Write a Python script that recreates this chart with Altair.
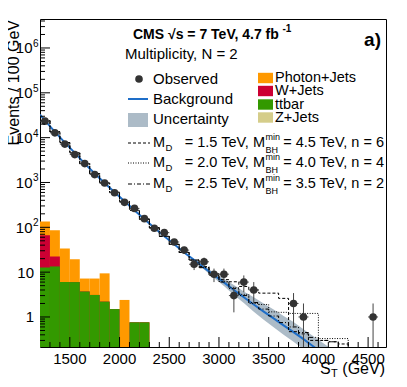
import altair as alt
import numpy as np
import pandas as pd

FONT = "Liberation Sans"

# ---------------- data ----------------
obs_st = [1250, 1350, 1450, 1550, 1650, 1750, 1850, 1950, 2050, 2150, 2250,
          2350, 2450, 2550, 2650, 2750, 2850, 2950, 3050, 3150, 3250, 3350,
          3750, 3850, 4550]
obs_n = [23300, 12800, 7170, 4190, 2640, 1500, 975, 590, 360, 264, 156,
         95, 76, 47, 31, 15, 17, 9, 9, 3, 6, 4, 2, 1, 1]

bkg_st = [1200, 1250, 1350, 1450, 1550, 1650, 1750, 1850, 1950, 2050, 2150,
          2250, 2350, 2450, 2550, 2650, 2750, 2850, 2950, 3050, 3150, 3250,
          3350, 3450, 3550, 3650, 3750, 3850, 3950, 4050, 4150, 4250, 4350]
bkg_val = [32400, 24000, 13500, 7760, 4570, 2630, 1585, 977, 603, 380, 240,
           151, 98, 63, 41.7, 27.5, 18.6, 12.6, 8.5, 5.9, 4.0, 2.75,
           1.9, 1.32, 0.93, 0.65, 0.46, 0.32, 0.22, 0.15, 0.105, 0.072, 0.05]
unc_lo = [31700, 23500, 13200, 7590, 4470, 2570, 1550, 955, 589, 371, 234,
          147, 95.5, 61.4, 40.5, 26.5, 17.4, 11.5, 7.4, 4.9, 3.1, 2.04,
          1.31, 0.87, 0.59, 0.40, 0.28, 0.19, 0.13, 0.086, 0.06, 0.042, 0.029]
unc_hi = [33100, 24500, 13800, 7940, 4670, 2690, 1620, 1000, 617, 389, 246,
          155, 100.5, 64.6, 42.9, 28.5, 19.9, 13.8, 9.8, 7.1, 5.2, 3.7,
          2.75, 2.0, 1.47, 1.05, 0.77, 0.53, 0.37, 0.26, 0.18, 0.124, 0.086]

# stacked minor backgrounds (100 GeV bins, lower edges)
stack_lo = [1200, 1300, 1400, 1500, 1600, 1700, 1800, 1900, 2000, 2100, 2200]
ttbar = [12.7, 13.4, 6.0, 6.0, 3.7, 3.1, 2.2, 1.5, 0, 0.76, 0.76]
wjets = [53.7, 8.9, 0, 0, 0, 0, 0, 0, 0, 0, 0]
photon = [67.6, 63.5, 27.6, 13.4, 3.5, 4.1, 7.2, 0, 2.4, 0, 0]

# background + signal, bins from 2800 GeV (below: background only)
sig_from = 2800
sig_a = [13.3, 9.2, 6.8, 6.1, 4.8, 4.0, 3.4, 3.4, 2.6, 0.47, 0.42, 0.3, 0.3, 0.28, 0.25, 0.05]
sig_b = [12.6, 8.5, 6.2, 4.5, 3.2, 2.0, 1.9, 1.3, 1.27, 1.2, 1.2, 1.2, 0.33, 0.33, 0.33, 0.05]
sig_c = [12.6, 8.5, 6.0, 4.3, 3.0, 2.1, 1.5, 1.05, 0.75, 0.6, 0.45, 0.35, 0.3, 0.28, 0.05, 0.05]

x_labels = [1500, 2000, 2500, 3000, 3500, 4000, 4500]

# ---------------- styling ----------------
W, H = 346, 328
xs = alt.Scale(domain=[1200, 4680], nice=False, zero=False)
ys = alt.Scale(type="log", domain=[0.214, 4.43e6], nice=False)
C_ORANGE, C_RED, C_GREEN, C_TAN = "#ff9900", "#cc0033", "#339900", "#d5cd8a"
C_BAND, C_BLUE = "#acbbc7", "#1e6ec8"

one = pd.DataFrame({"a": [0]})


def X(f):
    return alt.X(f, type="quantitative", scale=xs, axis=None)


def Y(f):
    return alt.Y(f, type="quantitative", scale=ys, axis=None)


def txt(s, x, y, size=15, bold=False, align="left", baseline="alphabetic", angle=0):
    return alt.Chart(one).mark_text(
        text=s, font=FONT, fontSize=size, fontWeight="bold" if bold else "normal",
        align=align, baseline=baseline, angle=angle, color="black"
    ).encode(x=alt.value(x), y=alt.value(y))


layers = []

# stacked bars
sdf = pd.DataFrame({"lo": stack_lo, "t": ttbar, "w": wjets, "p": photon})
sdf["hi"] = sdf["lo"] + 100
sdf["g_top"] = sdf["t"]
sdf["r_top"] = sdf["t"] + sdf["w"]
sdf["o_top"] = sdf["t"] + sdf["w"] + sdf["p"]
for col, colr in [("o_top", C_ORANGE), ("r_top", C_RED), ("g_top", C_GREEN)]:
    d = sdf[sdf[col] > 0][["lo", "hi", col]].rename(columns={col: "top"})
    layers.append(alt.Chart(d).mark_rect(color=colr, clip=True).encode(
        x=X("lo"), x2="hi", y=Y("top"), y2=alt.value(H)))

# uncertainty band and background line
bdf = pd.DataFrame({"st": bkg_st, "v": bkg_val, "lo": unc_lo, "hi": unc_hi})
layers.append(alt.Chart(bdf).mark_area(color=C_BAND, clip=True).encode(
    x=X("st"), y=Y("lo"), y2="hi"))
layers.append(alt.Chart(bdf).mark_line(color=C_BLUE, strokeWidth=2, clip=True).encode(
    x=X("st"), y=Y("v")))

# signal step histograms
hist_lo = list(range(1200, 4400, 100))
bkg_hist = bkg_val[1:]
n_bkg_only = (sig_from - 1200) // 100
for vals, dash in [(sig_a, [3, 2]), (sig_b, [1, 1.5]), (sig_c, [4, 2, 1, 2])]:
    yv = bkg_hist[:n_bkg_only] + vals
    d = pd.DataFrame({"x": hist_lo + [4400], "y": yv + [yv[-1]]})
    layers.append(alt.Chart(d).mark_line(
        color="black", strokeWidth=1, strokeDash=dash, interpolate="step-after", clip=True
    ).encode(x=X("x"), y=Y("y")))

# observed data
odf = pd.DataFrame({"st": obs_st, "n": obs_n})
odf["lo"] = np.maximum(odf["n"] - np.sqrt(odf["n"]), 0.1)
odf["hi"] = odf["n"] + np.sqrt(odf["n"])
odf["xl"] = odf["st"] - 50
odf["xh"] = odf["st"] + 50
layers.append(alt.Chart(odf).mark_rule(color="#444", strokeWidth=1, clip=True).encode(
    x=X("st"), y=Y("lo"), y2="hi"))
layers.append(alt.Chart(odf).mark_rule(color="#444", strokeWidth=1, clip=True).encode(
    x=X("xl"), x2="xh", y=Y("n")))
layers.append(alt.Chart(odf).mark_point(filled=True, shape="circle", size=58,
                                        color="#333", opacity=1, clip=True).encode(
    x=X("st"), y=Y("n")))

# ticks (inside the frame)
ymaj = [1, 10, 100, 1e3, 1e4, 1e5, 1e6]
ymin = [k * 10.0 ** e for e in range(-1, 7) for k in range(2, 10)
        if 0.214 <= k * 10.0 ** e <= 4.43e6]
layers.append(alt.Chart(pd.DataFrame({"v": ymaj})).mark_rule(color="black").encode(
    y=Y("v"), x=alt.value(0), x2=alt.value(10)))
layers.append(alt.Chart(pd.DataFrame({"v": ymin})).mark_rule(color="black").encode(
    y=Y("v"), x=alt.value(0), x2=alt.value(5)))
xmaj = x_labels
xmin = [v for v in range(1300, 4700, 100) if v % 500 != 0]
layers.append(alt.Chart(pd.DataFrame({"v": xmaj})).mark_rule(color="black").encode(
    x=X("v"), y=alt.value(H), y2=alt.value(H - 10)))
layers.append(alt.Chart(pd.DataFrame({"v": xmin})).mark_rule(color="black").encode(
    x=X("v"), y=alt.value(H), y2=alt.value(H - 5)))

# tick labels
layers.append(alt.Chart(pd.DataFrame({"v": x_labels, "lab": [str(v) for v in x_labels]}))
              .mark_text(font=FONT, fontSize=15, align="center", baseline="alphabetic", color="black")
              .encode(x=X("v"), y=alt.value(345), text="lab:N"))
layers.append(alt.Chart(pd.DataFrame({"v": [1, 10], "lab": ["1", "10"]}))
              .mark_text(font=FONT, fontSize=15, align="right", baseline="alphabetic", dy=5.5, color="black")
              .encode(y=Y("v"), x=alt.value(-6), text="lab:N"))
edf = pd.DataFrame({"v": [1e2, 1e3, 1e4, 1e5, 1e6], "b": ["10"] * 5, "s": ["2", "3", "4", "5", "6"]})
layers.append(alt.Chart(edf).mark_text(font=FONT, fontSize=15, align="right", baseline="alphabetic",
                                       dy=5.5, color="black")
              .encode(y=Y("v"), x=alt.value(-7.5), text="b:N"))
layers.append(alt.Chart(edf).mark_text(font=FONT, fontSize=10, align="left", baseline="alphabetic",
                                       dy=-1, color="black")
              .encode(y=Y("v"), x=alt.value(-7), text="s:N"))

# axis titles
layers.append(txt("Events / 100 GeV", -21, 1, size=16, align="right", angle=270))
layers.append(txt("S", 280, 354.5, size=16))
layers.append(txt("T", 291, 357.5, size=11))
layers.append(txt("(GeV)", 345, 354.5, size=16, align="right"))

# header texts
layers.append(txt("CMS \u221as = 7 TeV, 4.7 fb", 93, 20, size=14, bold=True))
layers.append(txt("-1", 242.5, 13, size=10, bold=True))
layers.append(txt("a)", 341, 27, size=19, bold=True, align="right"))
layers.append(txt("Multiplicity, N = 2", 85, 40, size=15))

# legend: left column
layers.append(alt.Chart(one).mark_point(filled=True, shape="circle", size=58, color="#333", opacity=1)
              .encode(x=alt.value(99), y=alt.value(60)))
layers.append(txt("Observed", 113, 60, baseline="middle"))
layers.append(alt.Chart(one).mark_rule(color=C_BLUE, strokeWidth=2)
              .encode(x=alt.value(88), x2=alt.value(108), y=alt.value(80)))
layers.append(txt("Background", 113, 80, baseline="middle"))
layers.append(alt.Chart(one).mark_rect(color=C_BAND)
              .encode(x=alt.value(88), x2=alt.value(108), y=alt.value(94), y2=alt.value(108)))
layers.append(txt("Uncertainty", 113, 100, baseline="middle"))

# legend: right column
for (lab, colr, yc) in [("Photon+Jets", C_ORANGE, 59), ("W+Jets", C_RED, 72),
                        ("ttbar", C_GREEN, 85.5), ("Z+Jets", C_TAN, 98.5)]:
    layers.append(alt.Chart(one).mark_rect(color=colr)
                  .encode(x=alt.value(218), x2=alt.value(233),
                          y=alt.value(yc - 5.2), y2=alt.value(yc + 5.2)))
    layers.append(txt(lab, 235, yc, size=14.5, baseline="middle"))

# legend: signal models
sig_leg = [("1.5", "4.5", "6", [3, 2], 124),
           ("2.0", "4.0", "4", [1, 1.5], 144),
           ("2.5", "3.5", "2", [4, 2, 1, 2], 165)]
for md, mbh, n, dash, yc in sig_leg:
    layers.append(alt.Chart(one).mark_rule(color="black", strokeWidth=1, strokeDash=dash)
                  .encode(x=alt.value(88), x2=alt.value(110), y=alt.value(yc)))
    layers.append(txt("M", 113, yc, size=14.5, baseline="middle"))
    layers.append(txt("D", 125.5, yc + 4.5, size=9.5, baseline="middle"))
    layers.append(txt("= " + md + " TeV, M", 225, yc, size=14.5, align="right", baseline="middle"))
    layers.append(txt("min", 225.5, yc - 6.5, size=9, baseline="middle"))
    layers.append(txt("BH", 225.5, yc + 6.5, size=9, baseline="middle"))
    layers.append(txt("= " + mbh + " TeV, n = " + n, 344, yc, size=14.5, align="right", baseline="middle"))

chart = alt.layer(*layers).properties(
    width=W, height=H,
    padding={"left": 32, "top": 11, "right": 13, "bottom": 32},
    autosize=alt.AutoSizeParams(type="none"),
    background="white",
).configure_view(stroke="black", strokeWidth=1)

chart.save("out.html", embed_options={"renderer": "svg", "actions": False})
